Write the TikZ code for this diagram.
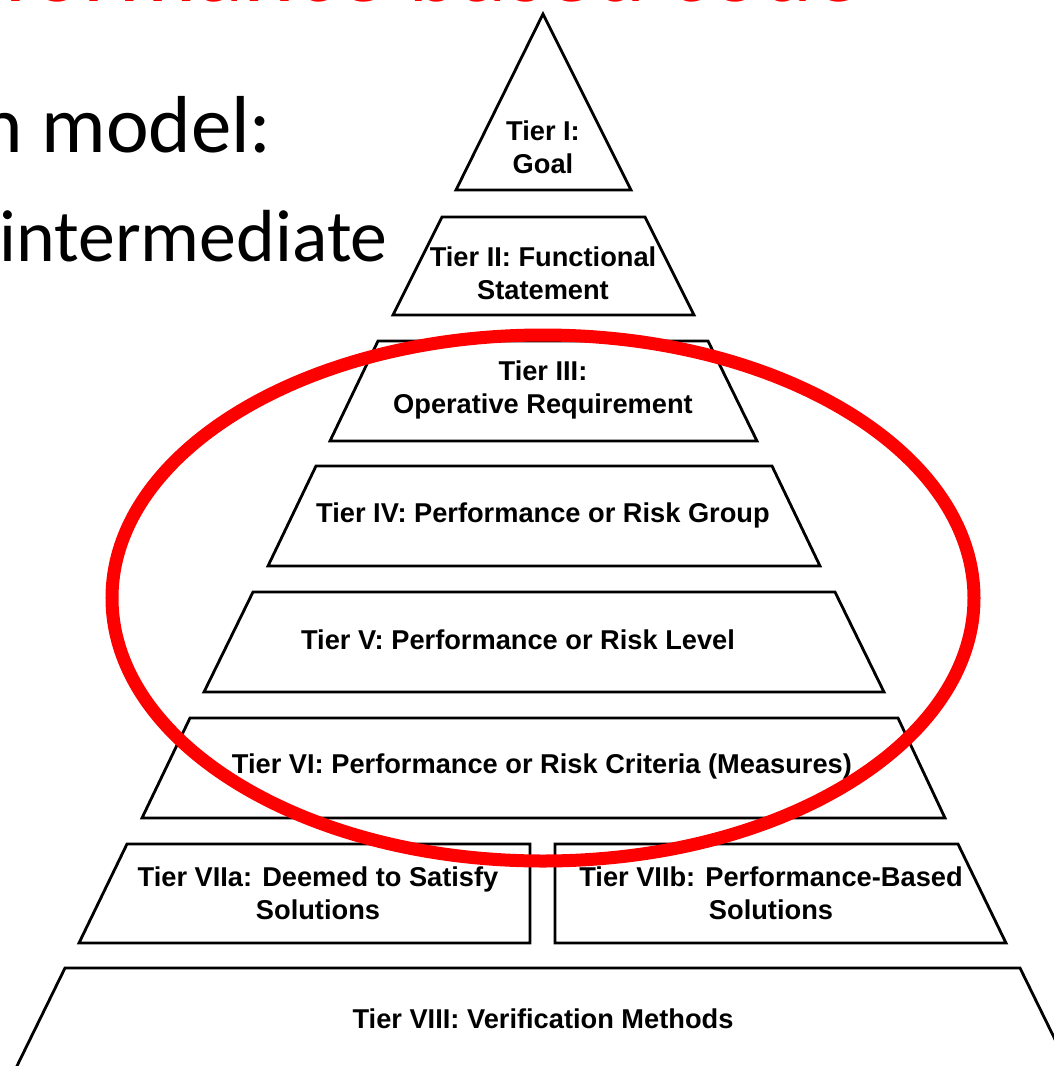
\documentclass[tikz,border=0pt]{standalone}
\usepackage{fontspec}
\setmainfont{Liberation Sans}
\newfontfamily\slidefont{Carlito}
\tikzset{
	% Styles for the pyramid: layer outline, layer caption, slide text, red ring
	tier shape/.style={draw=black,line width=1.6pt,line join=miter},
	tier label/.style={align=center,inner sep=0pt,font=\bfseries\fontsize{15.5}{19}\selectfont},
	slide text/.style={inner sep=0pt,font=\slidefont\fontsize{46}{55}\selectfont},
	red ring/.style={draw=red,line width=7.4pt}
}
\begin{document}
\begin{tikzpicture}[x=0.02cm,y=-0.02cm]
			% macro for the caption of a layer
			\newcommand{\tierlabel}[3]{\node[tier label](#1)at(#2){#3};}
			\useasboundingbox (0,0) rectangle (1054,1066);
			\clip (0,0) rectangle (1054,1066);
			
			% slide text behind the pyramid
			\node[slide text,text=red,font=\slidefont\fontsize{56}{66}\selectfont,anchor=base east](title)at(862,1.5){Performance based code};
			\node[slide text,anchor=base east](model)at(272,152){n model:};
			\node[slide text,font=\slidefont\fontsize{42}{50}\selectfont,anchor=base east](inter)at(388,261){intermediate};
			
			% layers, from the top down
			\draw[tier shape] (543,14) -- (631,190) -- (456,190) -- cycle;
			\draw[tier shape] (442,217) -- (645,217) -- (694,315) -- (393,315) -- cycle;
			\draw[tier shape] (378,341) -- (708,341) -- (757,441) -- (330,441) -- cycle;
			\draw[tier shape] (316,466) -- (772,466) -- (820,566) -- (268,566) -- cycle;
			\draw[tier shape] (253,592) -- (835,592) -- (884,692) -- (204,692) -- cycle;
			\draw[tier shape] (190,718) -- (898,718) -- (945,818) -- (142,818) -- cycle;
			\draw[tier shape] (127,844) -- (530,844) -- (530,943) -- (79,943) -- cycle;
			\draw[tier shape] (555,844) -- (958,844) -- (1006,943) -- (555,943) -- cycle;
			\draw[tier shape] (65,968) -- (1020,968) -- (1070,1070) -- (15,1070) -- cycle;
			
			\tierlabel{t1}{543,147}{Tier I:\\Goal}
			\tierlabel{t2}{543,273}{Tier II: Functional\\Statement}
			\tierlabel{t3}{543,390}{Tier III:\\Operative Requirement}
			\tierlabel{t4}{543,515}{Tier IV: Performance or Risk Group}
			\tierlabel{t5}{518,640}{Tier V: Performance or Risk Level}
			\tierlabel{t6}{542,766}{Tier VI: Performance or Risk Criteria (Measures)}
			\tierlabel{t7a}{318,893}{Tier VIIa: Deemed to Satisfy\\Solutions}
			\tierlabel{t7b}{771,893}{Tier VIIb: Performance-Based\\Solutions}
			\tierlabel{t8}{543,1019}{Tier VIII: Verification Methods}
			
			% the ring round tiers III to VI
			\draw[red ring] (543,598) ellipse [x radius=431, y radius=263];
		\end{tikzpicture}
\end{document}
